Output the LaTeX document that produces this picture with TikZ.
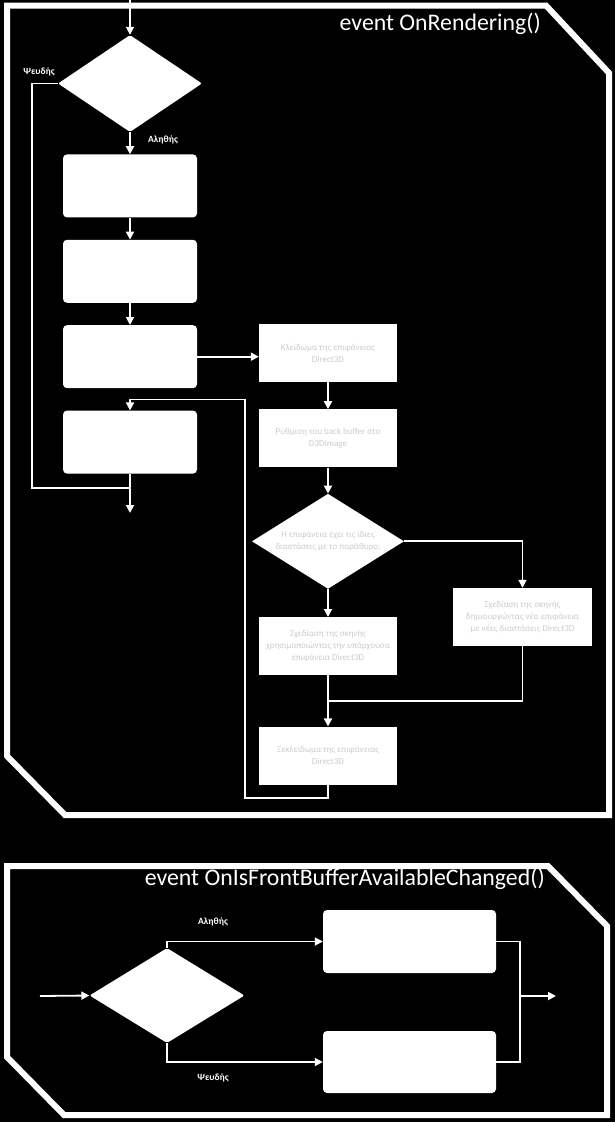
\documentclass[tikz,border=0pt]{standalone}
\usepackage{fontspec}
\setmainfont{Carlito}
\usetikzlibrary{positioning, arrows.meta, calc, shapes.geometric}

\begin{document}
\begin{tikzpicture}[x=1pt, y=-1pt, >={Triangle[length=8pt, width=8pt]},
  flow/.style={draw=white, line width=1.8pt},
  panel/.style={draw=white, line width=6pt, line join=miter},
  box/.style={fill=white, rounded corners=4pt, minimum width=134pt, minimum height=63pt},
  task/.style={fill=white, minimum width=138pt, minimum height=58pt, align=center,
    text=black!20, font=\fontsize{9}{12}\selectfont},
  cond/.style={diamond, fill=white, inner sep=0pt},
  diatext/.style={align=center, text=black!20, font=\fontsize{9}{12}\selectfont},
  lbl/.style={text=white, font=\bfseries\fontsize{9.5}{11}\selectfont},
  heading/.style={text=white, font=\fontsize{23.8}{26}\selectfont, anchor=base east, inner sep=0pt}]
  \fill[black] (0,0) rectangle (615,1122);
  \useasboundingbox (0,0) rectangle (615,1122);

  % frames
  \draw[panel] (7,5.5) -- (546,5.5) -- (609,73) -- (609,815) -- (65,815) -- (7,756) -- cycle;
  \node[heading] (t1) at (541,30) {event OnRendering()};
  \draw[panel] (7,866) -- (548,866) -- (607,926) -- (607,1115) -- (64,1115) -- (7,1057) -- cycle;
  \node[heading] (t2) at (545,885) {event OnIsFrontBufferAvailableChanged()};

  % OnRendering, left column
  \coordinate (in1) at (130,0);
  \node[cond, rounded corners=2pt, minimum width=144pt, minimum height=97pt] (d1) at (130,83.5) {};
  \node[box, below=22pt of d1] (box1) {};
  \node[box, below=22pt of box1] (box2) {};
  \node[box, below=22pt of box2] (box3) {};
  \node[box, below=22pt of box3] (box4) {};
  \coordinate (exit1) at (130,488);
  \coordinate (out1) at (130,513);
  \node[lbl] (no1) at (39,72) {Ψευδής};
  \node[lbl] (yes1) at (163,140) {Αληθής};

  % OnRendering, right column
  \node[task] (boxA) at (328,353) {Κλείδωμα της επιφάνειας\\Direct3D};
  \node[task, below=27pt of boxA] (boxB) {Ρύθμιση του back buffer στο\\D3DImage};
  \node[cond, minimum width=152pt, minimum height=95pt, below=26pt of boxB,
    label={[diatext]center:Η επιφάνεια έχει τις ίδιες\\διαστάσεις με το παράθυρο;}] (d2) {};
  \node[task, below=28pt of d2] (boxC) {Σχεδίαση της σκηνής\\χρησιμοποιώντας την υπάρχουσα\\επιφάνεια Direct3D};
  \node[task, minimum width=139pt] (boxD) at (522.5,617) {Σχεδίαση της σκηνής\\δημιουργώντας νέα επιφάνεια\\με νέες διαστάσεις Direct3D};
  \node[task, below=51pt of boxC] (boxE) {Ξεκλείδωμα της επιφάνειας\\Direct3D};

  \draw[flow, ->] (in1) -- (d1.north);
  \draw[flow, ->] (d1.south) -- (box1.north);
  \draw[flow, ->] (box1) -- (box2);
  \draw[flow, ->] (box2) -- (box3);
  \draw[flow] (d1.west) -- ++(-26,0) |- (exit1);
  \draw[flow, ->] (box4) -- (out1);
  \draw[flow, ->] (box3.east) -- (box3.east -| boxA.west);
  \draw[flow, ->] (boxA) -- (boxB);
  \draw[flow, ->] (boxB) -- (d2);
  \draw[flow, ->] (d2) -- (boxC);
  \draw[flow, ->] (d2.east) -| (boxD.north);
  \coordinate (join2) at ($(boxC.south)!0.5!(boxE.north)$);
  \draw[flow] (boxD.south) |- (join2);
  \draw[flow, ->] (boxC) -- (boxE);
  \coordinate (loop1) at ($(box3.south)!0.5!(box4.north)$);
  \draw[flow, ->] (boxE.south) -- ++(0,13) -| ($(loop1)+(115,0)$) -- (loop1) -- (box4.north);

  % OnIsFrontBufferAvailableChanged
  \coordinate (in2) at (40,996);
  \node[cond, rounded corners=2pt, minimum width=155pt, minimum height=95pt] (d3) at (167,995.5) {};
  \node[box, minimum width=173pt] (boxF) at (409.5,941.5) {};
  \node[box, minimum width=173pt, minimum height=62pt] (boxG) at (409.5,1062) {};
  \coordinate (merge2) at (520,996);
  \coordinate (out2) at (556,996);
  \node[lbl] (yes2) at (213,922) {Αληθής};
  \node[lbl] (no2) at (213,1078) {Ψευδής};

  \draw[flow, ->] (in2) -- (d3.west);
  \draw[flow, ->] (d3.north) |- (boxF.west);
  \draw[flow, ->] (d3.south) |- (boxG.west);
  \draw[flow] (boxF.east) -| (merge2) |- (boxG.east);
  \draw[flow, ->] (merge2) -- (out2);
\end{tikzpicture}
\end{document}
